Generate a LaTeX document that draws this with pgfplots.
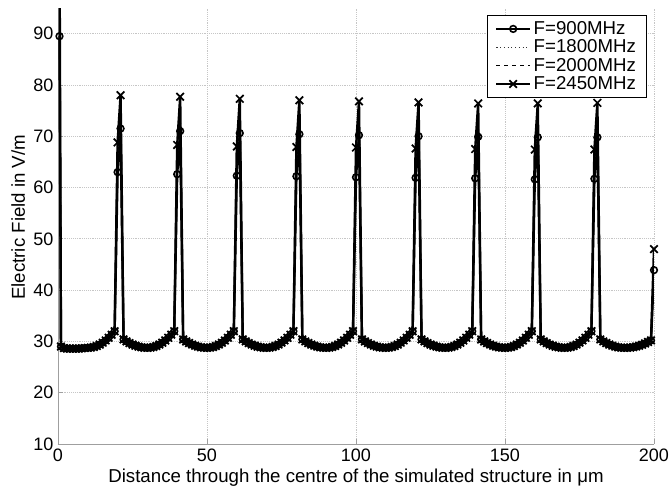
\documentclass[border=0pt]{standalone}
\usepackage{fontspec}
\setmainfont{Liberation Sans}
\usepackage{pgfplots}
\usepackage{pgfplotstable}
\pgfplotsset{compat=1.18}
\pgfplotstableread{
x a b c d
0.5 89.5 100 104 110
1 29.0 29.0 29.0 29.0
2 28.7 28.7 28.7 28.7
3 28.6 28.6 28.6 28.6
4 28.6 28.6 28.6 28.6
5 28.6 28.6 28.6 28.6
6 28.6 28.6 28.6 28.6
7 28.6 28.6 28.6 28.6
8 28.65 28.65 28.65 28.65
9 28.7 28.7 28.7 28.7
10 28.75 28.75 28.75 28.75
11 28.79 28.79 28.79 28.79
12 28.91 28.91 28.91 28.91
13 29.11 29.11 29.11 29.11
14 29.39 29.39 29.39 29.39
15 29.75 29.75 29.75 29.75
16 30.19 30.19 30.19 30.19
17 30.71 30.71 30.71 30.71
18 31.31 31.31 31.31 31.31
19 31.99 31.99 31.99 31.99
20 63.0 66.2 67.3 68.8
21 71.5 75.0 76.5 78.0
22 30.39 30.39 30.39 30.39
23 30.00 30.00 30.00 30.00
24 29.67 29.67 29.67 29.67
25 29.39 29.39 29.39 29.39
26 29.16 29.16 29.16 29.16
27 28.98 28.98 28.98 28.98
28 28.85 28.85 28.85 28.85
29 28.78 28.78 28.78 28.78
30 28.75 28.75 28.75 28.75
31 28.79 28.79 28.79 28.79
32 28.91 28.91 28.91 28.91
33 29.11 29.11 29.11 29.11
34 29.39 29.39 29.39 29.39
35 29.75 29.75 29.75 29.75
36 30.19 30.19 30.19 30.19
37 30.71 30.71 30.71 30.71
38 31.31 31.31 31.31 31.31
39 31.99 31.99 31.99 31.99
40 62.6 65.8 66.9 68.3
41 71.0 74.5 76.0 77.7
42 30.39 30.39 30.39 30.39
43 30.00 30.00 30.00 30.00
44 29.67 29.67 29.67 29.67
45 29.39 29.39 29.39 29.39
46 29.16 29.16 29.16 29.16
47 28.98 28.98 28.98 28.98
48 28.85 28.85 28.85 28.85
49 28.78 28.78 28.78 28.78
50 28.75 28.75 28.75 28.75
51 28.79 28.79 28.79 28.79
52 28.91 28.91 28.91 28.91
53 29.11 29.11 29.11 29.11
54 29.39 29.39 29.39 29.39
55 29.75 29.75 29.75 29.75
56 30.19 30.19 30.19 30.19
57 30.71 30.71 30.71 30.71
58 31.31 31.31 31.31 31.31
59 31.99 31.99 31.99 31.99
60 62.3 65.5 66.6 68.0
61 70.6 74.1 75.6 77.3
62 30.39 30.39 30.39 30.39
63 30.00 30.00 30.00 30.00
64 29.67 29.67 29.67 29.67
65 29.39 29.39 29.39 29.39
66 29.16 29.16 29.16 29.16
67 28.98 28.98 28.98 28.98
68 28.85 28.85 28.85 28.85
69 28.78 28.78 28.78 28.78
70 28.75 28.75 28.75 28.75
71 28.79 28.79 28.79 28.79
72 28.91 28.91 28.91 28.91
73 29.11 29.11 29.11 29.11
74 29.39 29.39 29.39 29.39
75 29.75 29.75 29.75 29.75
76 30.19 30.19 30.19 30.19
77 30.71 30.71 30.71 30.71
78 31.31 31.31 31.31 31.31
79 31.99 31.99 31.99 31.99
80 62.2 65.4 66.5 67.9
81 70.4 73.9 75.4 77.0
82 30.39 30.39 30.39 30.39
83 30.00 30.00 30.00 30.00
84 29.67 29.67 29.67 29.67
85 29.39 29.39 29.39 29.39
86 29.16 29.16 29.16 29.16
87 28.98 28.98 28.98 28.98
88 28.85 28.85 28.85 28.85
89 28.78 28.78 28.78 28.78
90 28.75 28.75 28.75 28.75
91 28.79 28.79 28.79 28.79
92 28.91 28.91 28.91 28.91
93 29.11 29.11 29.11 29.11
94 29.39 29.39 29.39 29.39
95 29.75 29.75 29.75 29.75
96 30.19 30.19 30.19 30.19
97 30.71 30.71 30.71 30.71
98 31.31 31.31 31.31 31.31
99 31.99 31.99 31.99 31.99
100 62.0 65.2 66.3 67.8
101 70.2 73.7 75.2 76.8
102 30.39 30.39 30.39 30.39
103 30.00 30.00 30.00 30.00
104 29.67 29.67 29.67 29.67
105 29.39 29.39 29.39 29.39
106 29.16 29.16 29.16 29.16
107 28.98 28.98 28.98 28.98
108 28.85 28.85 28.85 28.85
109 28.78 28.78 28.78 28.78
110 28.75 28.75 28.75 28.75
111 28.79 28.79 28.79 28.79
112 28.91 28.91 28.91 28.91
113 29.11 29.11 29.11 29.11
114 29.39 29.39 29.39 29.39
115 29.75 29.75 29.75 29.75
116 30.19 30.19 30.19 30.19
117 30.71 30.71 30.71 30.71
118 31.31 31.31 31.31 31.31
119 31.99 31.99 31.99 31.99
120 61.9 65.1 66.2 67.6
121 70.0 73.5 75.0 76.6
122 30.39 30.39 30.39 30.39
123 30.00 30.00 30.00 30.00
124 29.67 29.67 29.67 29.67
125 29.39 29.39 29.39 29.39
126 29.16 29.16 29.16 29.16
127 28.98 28.98 28.98 28.98
128 28.85 28.85 28.85 28.85
129 28.78 28.78 28.78 28.78
130 28.75 28.75 28.75 28.75
131 28.79 28.79 28.79 28.79
132 28.91 28.91 28.91 28.91
133 29.11 29.11 29.11 29.11
134 29.39 29.39 29.39 29.39
135 29.75 29.75 29.75 29.75
136 30.19 30.19 30.19 30.19
137 30.71 30.71 30.71 30.71
138 31.31 31.31 31.31 31.31
139 31.99 31.99 31.99 31.99
140 61.8 65.0 66.1 67.5
141 69.9 73.4 74.9 76.4
142 30.39 30.39 30.39 30.39
143 30.00 30.00 30.00 30.00
144 29.67 29.67 29.67 29.67
145 29.39 29.39 29.39 29.39
146 29.16 29.16 29.16 29.16
147 28.98 28.98 28.98 28.98
148 28.85 28.85 28.85 28.85
149 28.78 28.78 28.78 28.78
150 28.75 28.75 28.75 28.75
151 28.79 28.79 28.79 28.79
152 28.91 28.91 28.91 28.91
153 29.11 29.11 29.11 29.11
154 29.39 29.39 29.39 29.39
155 29.75 29.75 29.75 29.75
156 30.19 30.19 30.19 30.19
157 30.71 30.71 30.71 30.71
158 31.31 31.31 31.31 31.31
159 31.99 31.99 31.99 31.99
160 61.6 64.8 65.9 67.4
161 69.8 73.3 74.8 76.4
162 30.39 30.39 30.39 30.39
163 30.00 30.00 30.00 30.00
164 29.67 29.67 29.67 29.67
165 29.39 29.39 29.39 29.39
166 29.16 29.16 29.16 29.16
167 28.98 28.98 28.98 28.98
168 28.85 28.85 28.85 28.85
169 28.78 28.78 28.78 28.78
170 28.75 28.75 28.75 28.75
171 28.79 28.79 28.79 28.79
172 28.91 28.91 28.91 28.91
173 29.11 29.11 29.11 29.11
174 29.39 29.39 29.39 29.39
175 29.75 29.75 29.75 29.75
176 30.19 30.19 30.19 30.19
177 30.71 30.71 30.71 30.71
178 31.31 31.31 31.31 31.31
179 31.99 31.99 31.99 31.99
180 61.7 64.9 66.0 67.4
181 69.8 73.3 74.8 76.5
182 30.39 30.39 30.39 30.39
183 30.00 30.00 30.00 30.00
184 29.67 29.67 29.67 29.67
185 29.39 29.39 29.39 29.39
186 29.16 29.16 29.16 29.16
187 28.98 28.98 28.98 28.98
188 28.85 28.85 28.85 28.85
189 28.78 28.78 28.78 28.78
190 28.75 28.75 28.75 28.75
191 28.76 28.76 28.76 28.76
192 28.80 28.80 28.80 28.80
193 28.88 28.88 28.88 28.88
194 29.00 29.00 29.00 29.00
195 29.15 29.15 29.15 29.15
196 29.35 29.35 29.35 29.35
197 29.60 29.60 29.60 29.60
198 29.90 29.90 29.90 29.90
199 30.20 30.20 30.20 30.20
200 43.9 45.5 46.5 48.0
}\fielddata
\begin{document}
\begin{tikzpicture}
\begin{axis}[
  scale only axis,
  width=447pt, height=327pt,
  xmin=0, xmax=200, ymin=10, ymax=95,
  xtick={0,50,100,150,200},
  ytick={10,20,30,40,50,60,70,80,90},
  axis lines*=left,
  axis line style={gray!75, line width=0.7pt},
  tick align=inside,
  major tick length=4pt,
  tick style={gray!75, line width=0.6pt},
  grid=major,
  major grid style={densely dotted, gray!45, line width=0.6pt},
  /pgf/number format/assume math mode=true,
  tick label style={font=\fontsize{13.5}{15}\selectfont},
  label style={font=\fontsize{14}{16}\selectfont},
  xlabel={Distance through the centre of the simulated structure in μm},
  ylabel={Electric Field in V/m},
  xlabel style={at={(axis description cs:0.5,-0.0894)}, anchor=base},
  ylabel style={at={(axis description cs:-0.0554,0.52)}, anchor=base},
  legend style={at={(axis description cs:1,1)}, anchor=north east,
    xshift=-5.25pt, yshift=-5.25pt, draw=black, line width=0.6pt, fill=white,
    font=\fontsize{14}{16}\selectfont, row sep=-1.5pt, inner xsep=6pt, inner ysep=2.5pt},
  legend cell align=left,
  legend image code/.code={\draw[mark repeat=2,mark phase=2] plot coordinates {(0cm,0cm) (0.44cm,0cm) (0.88cm,0cm)};},
]
\addplot[black, line width=1.8pt, mark=o, mark size=2.5pt, mark options={solid, fill=white, line width=1.2pt}] table[x=x, y=a] {\fielddata};
\addlegendentry{F=900MHz}
\addplot[black!80, line width=0.8pt, dotted] table[x=x, y=b] {\fielddata};
\addlegendentry{F=1800MHz}
\addplot[black, line width=0.9pt, dashed] table[x=x, y=c] {\fielddata};
\addlegendentry{F=2000MHz}
\addplot[black, line width=1.8pt, mark=x, mark size=4pt, mark options={solid, line width=1.3pt}] table[x=x, y=d] {\fielddata};
\addlegendentry{F=2450MHz}
\end{axis}
\pgfresetboundingbox
\path[use as bounding box] (-43.5pt,-33.75pt) rectangle (458.25pt,333pt);
\end{tikzpicture}
\end{document}
